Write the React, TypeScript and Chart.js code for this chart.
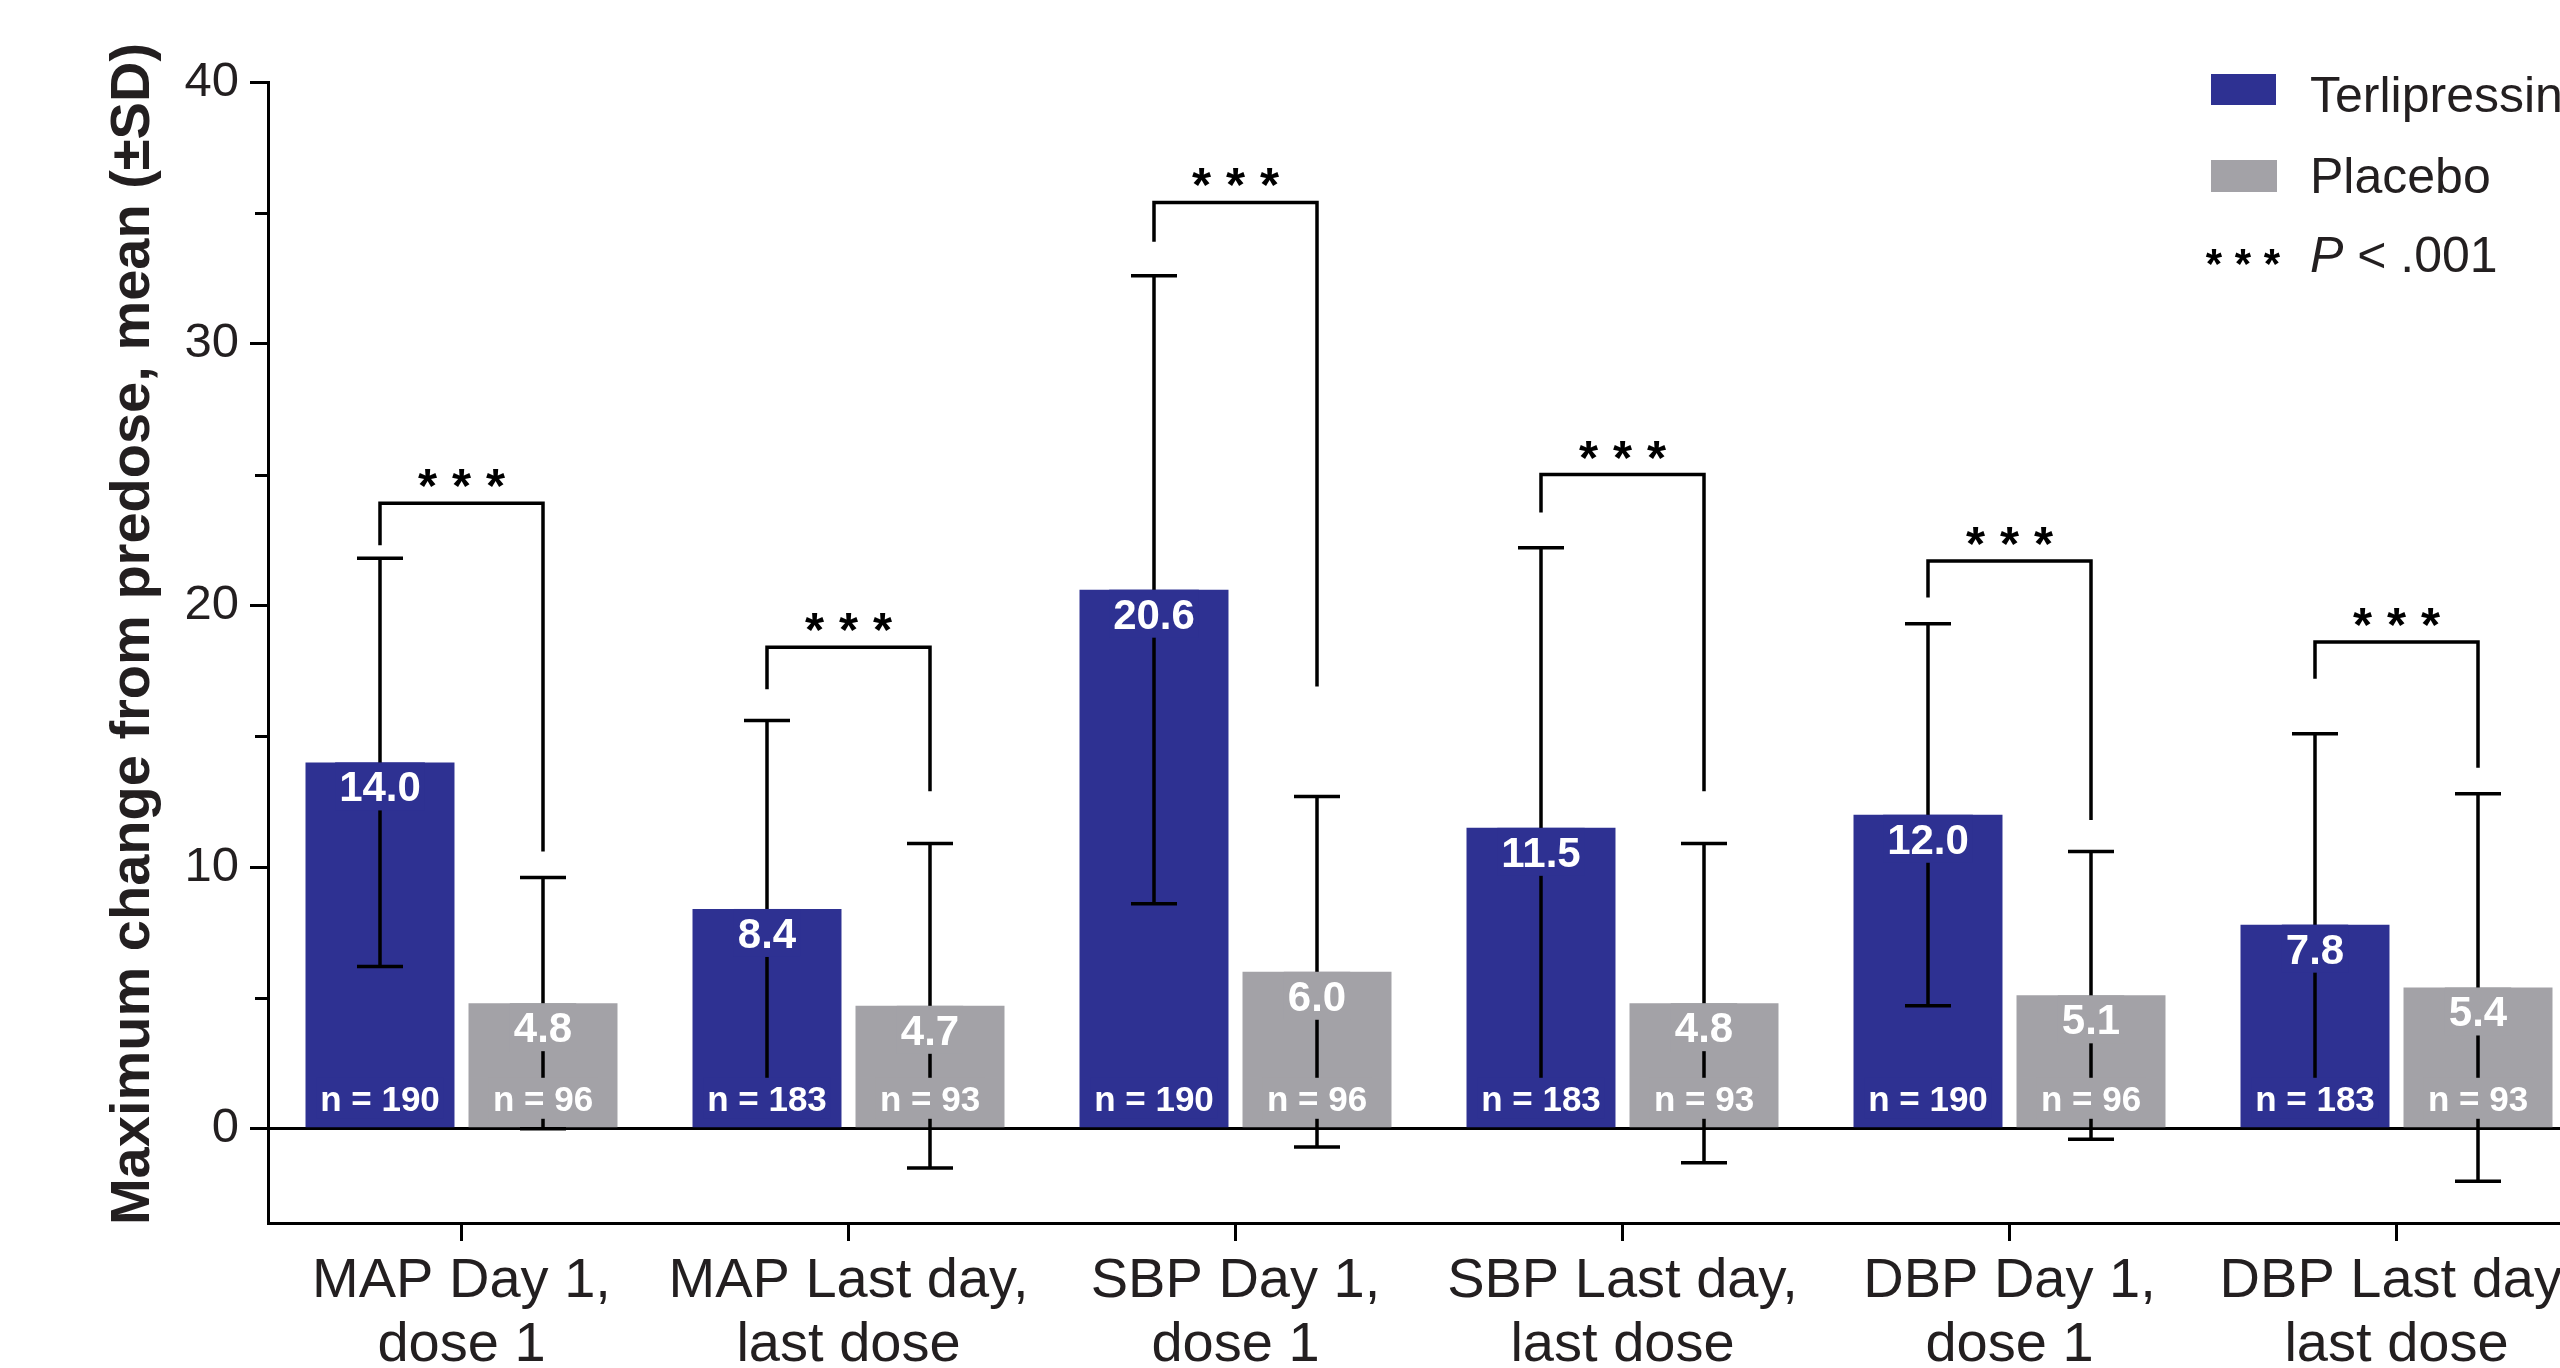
import React, { useEffect, useRef } from 'react';
import { Chart, registerables } from 'chart.js';

Chart.register(...registerables);

// ---------- data ----------
const CATEGORIES: string[][] = [
  ['MAP Day 1,', 'dose 1'],
  ['MAP Last day,', 'last dose'],
  ['SBP Day 1,', 'dose 1'],
  ['SBP Last day,', 'last dose'],
  ['DBP Day 1,', 'dose 1'],
  ['DBP Last day,', 'last dose'],
];
const SERIES_NAMES = ['Terlipressin', 'Placebo'];
const TERLI_MEAN = [14.0, 8.4, 20.6, 11.5, 12.0, 7.8];
const TERLI_SD = [7.8, 7.2, 12.0, 10.7, 7.3, 7.3];
const TERLI_N = [190, 183, 190, 183, 190, 183];
const PLACEBO_MEAN = [4.8, 4.7, 6.0, 4.8, 5.1, 5.4];
const PLACEBO_SD = [4.8, 6.2, 6.7, 6.1, 5.5, 7.4];
const PLACEBO_N = [96, 93, 96, 93, 96, 93];
// significance brackets (data units)
const BRACKET_TOP = [23.9, 18.4, 35.4, 25.0, 21.7, 18.6];
const BRACKET_LEFT_END = [22.3, 16.8, 33.9, 23.55, 20.3, 17.2];
const BRACKET_RIGHT_END = [10.6, 12.9, 16.9, 12.9, 11.8, 13.8];
const SIGNIF_MARK = '*';
const SIGNIF_COUNT = 3;
const P_LABEL_ITALIC = 'P';
const P_LABEL_REST = ' < .001';
const Y_TICKS = [0, 10, 20, 30, 40];
const Y_MINOR_TICKS = [5, 15, 25, 35];
const Y_MIN = -3.6;
const Y_MAX = 40;
const Y_TITLE = 'Maximum change from predose, mean (\u00B1SD)';

// ---------- style ----------
const FONT = "'Liberation Sans', Arial, Helvetica, sans-serif";
const BLUE = '#2E3192';
const GRAY = '#A3A2A7';
const TEXT = '#231F20';
const LINE = '#000000';

const annotPlugin = {
  id: 'annot',
  afterDatasetsDraw(chart: any) {
    const ctx: CanvasRenderingContext2D = chart.ctx;
    const y = chart.scales.y;
    const metas = [chart.getDatasetMeta(0), chart.getDatasetMeta(1)];
    const means = [TERLI_MEAN, PLACEBO_MEAN];
    const sds = [TERLI_SD, PLACEBO_SD];
    const ns = [TERLI_N, PLACEBO_N];
    const colors = [BLUE, GRAY];
    const zeroPx = y.getPixelForValue(0);
    ctx.save();
    // error bars
    ctx.strokeStyle = LINE;
    ctx.lineWidth = 3.5;
    ctx.lineCap = 'butt';
    for (let d = 0; d < 2; d++) {
      for (let i = 0; i < CATEGORIES.length; i++) {
        const bar = metas[d].data[i];
        const x = bar.x;
        const hi = y.getPixelForValue(means[d][i] + sds[d][i]);
        const lo = y.getPixelForValue(means[d][i] - sds[d][i]);
        ctx.beginPath();
        ctx.moveTo(x, hi);
        ctx.lineTo(x, lo);
        ctx.moveTo(x - 23, hi);
        ctx.lineTo(x + 23, hi);
        ctx.moveTo(x - 23, lo);
        ctx.lineTo(x + 23, lo);
        ctx.stroke();
      }
    }
    // labels in bars
    ctx.textAlign = 'center';
    ctx.textBaseline = 'alphabetic';
    for (let d = 0; d < 2; d++) {
      for (let i = 0; i < CATEGORIES.length; i++) {
        const bar = metas[d].data[i];
        const x = bar.x;
        const top = bar.y;
        const txt = means[d][i].toFixed(1);
        ctx.font = `bold 42px ${FONT}`;
        let w = ctx.measureText(txt).width;
        ctx.fillStyle = colors[d];
        ctx.fillRect(x - w / 2 - 4, top, w + 8, 39 + 9);
        ctx.fillStyle = '#FFFFFF';
        ctx.fillText(txt, x, top + 39);
        const ntxt = `n = ${ns[d][i]}`;
        ctx.font = `bold 35px ${FONT}`;
        w = ctx.measureText(ntxt).width;
        const base = zeroPx - 18;
        ctx.fillStyle = colors[d];
        ctx.fillRect(x - w / 2 - 4, base - 33, w + 8, 41);
        ctx.fillStyle = '#FFFFFF';
        ctx.fillText(ntxt, x, base);
      }
    }
    // brackets
    ctx.strokeStyle = LINE;
    ctx.lineWidth = 3.5;
    ctx.lineJoin = 'miter';
    for (let i = 0; i < CATEGORIES.length; i++) {
      const xl = metas[0].data[i].x;
      const xr = metas[1].data[i].x;
      const yt = y.getPixelForValue(BRACKET_TOP[i]);
      ctx.beginPath();
      ctx.moveTo(xl, y.getPixelForValue(BRACKET_LEFT_END[i]));
      ctx.lineTo(xl, yt);
      ctx.lineTo(xr, yt);
      ctx.lineTo(xr, y.getPixelForValue(BRACKET_RIGHT_END[i]));
      ctx.stroke();
      drawStars(ctx, (xl + xr) / 2, yt - 25, 49, 34);
    }
    ctx.restore();
  },
  afterDraw(chart: any) {
    const ctx: CanvasRenderingContext2D = chart.ctx;
    const y = chart.scales.y;
    const area = chart.chartArea;
    ctx.save();
    // minor ticks
    ctx.strokeStyle = LINE;
    ctx.lineWidth = 3;
    for (const v of Y_MINOR_TICKS) {
      const py = Math.round(y.getPixelForValue(v)) + 0.5;
      ctx.beginPath();
      ctx.moveTo(area.left - 13, py);
      ctx.lineTo(area.left, py);
      ctx.stroke();
    }
    // y title
    ctx.save();
    ctx.translate(134, 634);
    ctx.rotate(-Math.PI / 2);
    ctx.font = `bold 56px ${FONT}`;
    ctx.fillStyle = TEXT;
    ctx.textAlign = 'center';
    ctx.textBaseline = 'middle';
    ctx.fillText(Y_TITLE, 0, 0);
    ctx.restore();
    // legend
    const ds = chart.data.datasets;
    ctx.fillStyle = ds[0].backgroundColor;
    ctx.fillRect(2211, 74, 65, 31);
    ctx.fillStyle = ds[1].backgroundColor;
    ctx.fillRect(2211, 160, 66, 32);
    ctx.fillStyle = TEXT;
    ctx.font = `50px ${FONT}`;
    ctx.textAlign = 'left';
    ctx.textBaseline = 'alphabetic';
    ctx.fillText(ds[0].label, 2310, 112);
    ctx.fillText(ds[1].label, 2310, 193);
    drawStars(ctx, 2243, 257, 42, 29);
    ctx.fillStyle = TEXT;
    ctx.textAlign = 'left';
    ctx.textBaseline = 'alphabetic';
    ctx.font = `italic 50px ${FONT}`;
    ctx.fillText(P_LABEL_ITALIC, 2310, 272);
    const pw = ctx.measureText(P_LABEL_ITALIC).width;
    ctx.font = `50px ${FONT}`;
    ctx.fillText(P_LABEL_REST, 2310 + pw, 272);
    ctx.restore();
  },
};

function drawStars(ctx: CanvasRenderingContext2D, cx: number, cy: number, size: number, gap: number) {
  ctx.save();
  ctx.font = `bold ${size}px ${FONT}`;
  ctx.fillStyle = LINE;
  ctx.textAlign = 'center';
  ctx.textBaseline = 'alphabetic';
  const m = ctx.measureText(SIGNIF_MARK);
  const asc = m.actualBoundingBoxAscent;
  const desc = m.actualBoundingBoxDescent;
  const base = cy + (asc - desc) / 2;
  for (let k = 0; k < SIGNIF_COUNT; k++) {
    const off = (k - (SIGNIF_COUNT - 1) / 2) * gap;
    ctx.fillText(SIGNIF_MARK, cx + off, base);
  }
  ctx.restore();
}

export default function App() {
  const ref = useRef<HTMLCanvasElement | null>(null);
  useEffect(() => {
    if (!ref.current) return;
    const chart = new Chart(ref.current, {
      type: 'bar',
      data: {
        labels: CATEGORIES,
        datasets: [
          {
            label: SERIES_NAMES[0],
            data: TERLI_MEAN,
            backgroundColor: BLUE,
            borderWidth: 0,
            categoryPercentage: 0.8424,
            barPercentage: 0.914,
          },
          {
            label: SERIES_NAMES[1],
            data: PLACEBO_MEAN,
            backgroundColor: GRAY,
            borderWidth: 0,
            categoryPercentage: 0.8424,
            barPercentage: 0.914,
          },
        ],
      },
      options: {
        responsive: false,
        maintainAspectRatio: false,
        devicePixelRatio: 1,
        animation: false,
        layout: { padding: { left: 0, top: 82, right: 10, bottom: 0 } },
        plugins: {
          legend: { display: false },
          tooltip: { enabled: false },
          title: { display: false },
        },
        scales: {
          x: {
            offset: true,
            grid: {
              offset: false,
              drawOnChartArea: false,
              drawTicks: true,
              tickLength: 18,
              tickWidth: 3,
              tickColor: LINE,
            },
            border: { display: true, color: LINE, width: 3 },
            ticks: {
              color: TEXT,
              font: { family: FONT, size: 56, lineHeight: 1.15 },
              padding: 8,
              maxRotation: 0,
              minRotation: 0,
              autoSkip: false,
            },
            afterFit: (s: any) => {
              s.height = 145;
            },
          },
          y: {
            min: Y_MIN,
            max: Y_MAX,
            z: 1,
            afterBuildTicks: (s: any) => {
              s.ticks = Y_TICKS.map((v) => ({ value: v }));
            },
            grid: {
              drawOnChartArea: true,
              color: (c: any) => (c.tick && c.tick.value === 0 ? LINE : 'rgba(0,0,0,0)'),
              lineWidth: 3,
              drawTicks: true,
              tickLength: 18,
              tickWidth: 3,
              tickColor: LINE,
            },
            border: { display: true, color: LINE, width: 3 },
            ticks: {
              color: TEXT,
              font: { family: FONT, size: 49 },
              padding: 11,
            },
            afterFit: (s: any) => {
              s.width = 268;
            },
          },
        },
      },
      plugins: [annotPlugin],
    });
    return () => chart.destroy();
  }, []);
  return (
    <div
      style={{
        position: 'fixed',
        left: 0,
        top: 0,
        width: '2560px',
        height: '1368px',
        overflow: 'hidden',
        background: '#FFFFFF',
      }}
    >
      <canvas ref={ref} width={2600} height={1368} style={{ display: 'block', width: '2600px', height: '1368px' }} />
    </div>
  );
}
